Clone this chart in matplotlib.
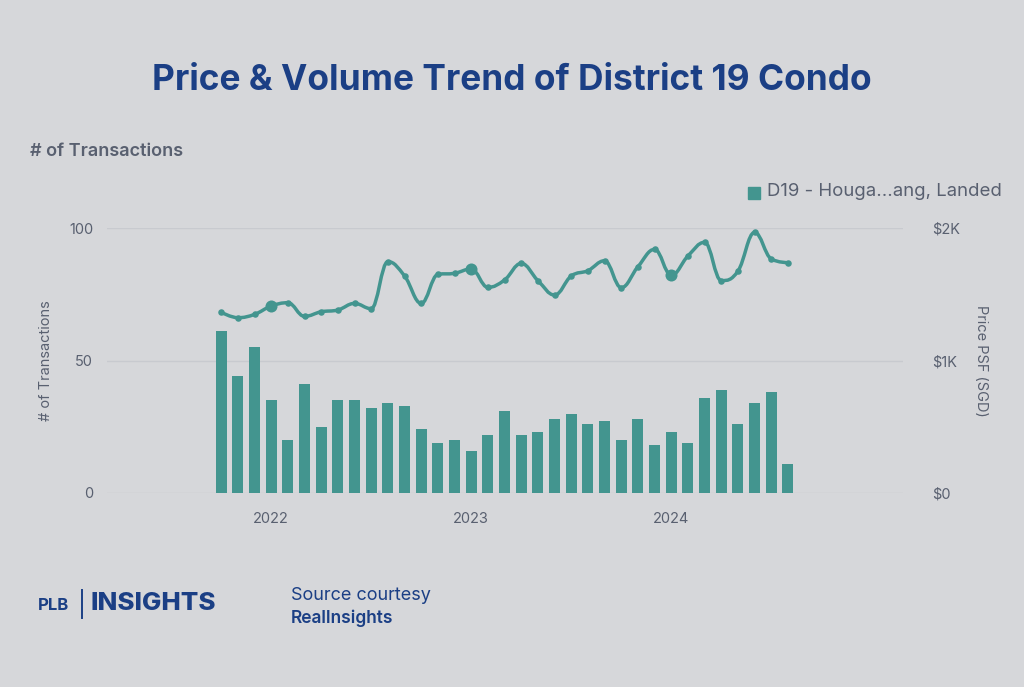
import matplotlib
matplotlib.use("Agg")
import matplotlib.pyplot as plt
from matplotlib.path import Path
from matplotlib.patches import PathPatch

# ---- data ----
months = ["2021-10", "2021-11", "2021-12", "2022-01", "2022-02", "2022-03", "2022-04",
          "2022-05", "2022-06", "2022-07", "2022-08", "2022-09", "2022-10", "2022-11",
          "2022-12", "2023-01", "2023-02", "2023-03", "2023-04", "2023-05", "2023-06",
          "2023-07", "2023-08", "2023-09", "2023-10", "2023-11", "2023-12", "2024-01",
          "2024-02", "2024-03", "2024-04", "2024-05", "2024-06", "2024-07", "2024-08"]
transactions = [61, 44, 55, 35, 20, 41, 25, 35, 35, 32, 34, 33, 24, 19, 20, 16, 22, 31,
                22, 23, 28, 30, 26, 27, 20, 28, 18, 23, 19, 36, 39, 26, 34, 38, 11]
price_psf = [1364, 1323, 1348, 1411, 1436, 1333, 1368, 1381, 1431, 1391, 1746, 1638,
             1431, 1650, 1658, 1691, 1552, 1608, 1733, 1603, 1494, 1638, 1678, 1753,
             1550, 1708, 1839, 1643, 1789, 1892, 1603, 1675, 1967, 1766, 1738]
year_ticks = ["2022", "2023", "2024"]
legend_label = "D19 - Houga...ang, Landed"

BG = "#d6d7da"
TEAL = "#43958f"
NAVY = "#1b3f85"
GRAY = "#596070"
GRID = "#c8cacf"

plt.rcParams["font.family"] = ["Inter", "DejaVu Sans"]

fig = plt.figure(figsize=(10.24, 6.87), dpi=100, facecolor=BG)
W, H = 1024, 687
ax = fig.add_axes([107 / W, 1 - 493 / H, (903 - 107) / W, (493 - 228) / H])
ax.set_facecolor(BG)
ax2 = ax.twinx()

x = list(range(len(months)))
ax.bar(x, transactions, width=0.66, color=TEAL, zorder=2)
ax.set_ylim(0, 100)
ax.set_yticks([0, 50, 100])
ax.set_xlim(-6.85, 40.9)
jan_idx = [i for i, m in enumerate(months) if m.endswith("-01")]
ax.set_xticks(jan_idx)
ax.set_xticklabels(year_ticks)
ax.grid(axis="y", color=GRID, lw=1, zorder=0)
for s in ax.spines.values():
    s.set_visible(False)
for s in ax2.spines.values():
    s.set_visible(False)
ax.tick_params(axis="both", length=0, colors=GRAY, labelsize=10.5)
ax.tick_params(axis="x", pad=13.5)
ax.tick_params(axis="y", pad=10)
ax.set_ylabel("# of Transactions", color=GRAY, fontsize=10.5, labelpad=11.5)

ax2.set_ylim(0, 2000)
ax2.set_yticks([0, 1000, 2000])
ax2.set_yticklabels(["$0", "$1K", "$2K"])
ax2.tick_params(axis="y", length=0, colors=GRAY, labelsize=10.5, pad=21)
ax2.set_ylabel("Price PSF (SGD)", color=GRAY, fontsize=10.5, rotation=270, labelpad=20)

# smooth spline (Highcharts-style bezier control points)
sm = 1.5
verts = [(x[0], price_psf[0])]
codes = [Path.MOVETO]
def ctrl(i):
    xi, yi = x[i], price_psf[i]
    if i == 0 or i == len(x) - 1:
        return (xi, yi), (xi, yi)
    xp, yp = x[i - 1], price_psf[i - 1]
    xn, yn = x[i + 1], price_psf[i + 1]
    lx, ly = (sm * xi + xp) / (sm + 1), (sm * yi + yp) / (sm + 1)
    rx, ry = (sm * xi + xn) / (sm + 1), (sm * yi + yn) / (sm + 1)
    corr = ((ry - ly) * (rx - xi)) / (rx - lx) + yi - ry
    ly += corr
    ry += corr
    if ly > yp and ly > yi:
        ly = max(yp, yi); ry = 2 * yi - ly
    elif ly < yp and ly < yi:
        ly = min(yp, yi); ry = 2 * yi - ly
    if ry > yn and ry > yi:
        ry = max(yn, yi); ly = 2 * yi - ry
    elif ry < yn and ry < yi:
        ry = min(yn, yi); ly = 2 * yi - ry
    return (lx, ly), (rx, ry)
ctrls = [ctrl(i) for i in range(len(x))]
for i in range(1, len(x)):
    verts += [ctrls[i - 1][1], ctrls[i][0], (x[i], price_psf[i])]
    codes += [Path.CURVE4] * 3
ax2.add_patch(PathPatch(Path(verts, codes), fc="none", ec=TEAL, lw=2.5, zorder=3,
                        capstyle="round", joinstyle="round"))
ax2.scatter(x, price_psf, s=22, color=TEAL, zorder=4, lw=0)
ax2.scatter([x[i] for i in jan_idx], [price_psf[i] for i in jan_idx], s=75,
            color=TEAL, zorder=5, lw=0)

# texts
fig.text(512 / W, 1 - 81 / H, "Price & Volume Trend of District 19 Condo",
         ha="center", va="center", fontsize=25.4, fontweight="bold", color=NAVY)
fig.text(30 / W, 1 - 152 / H, "# of Transactions", ha="left", va="center",
         fontsize=13, fontweight="semibold", color=GRAY)
fig.patches.append(plt.Rectangle((748 / W, 1 - 199 / H), 12 / W, 12 / H,
                                 transform=fig.transFigure, color=TEAL, figure=fig))
fig.text(767 / W, 1 - 192 / H, legend_label, ha="left", va="center",
         fontsize=13.4, color=GRAY)

fig.text(38 / W, 1 - 605 / H, "PLB", ha="left", va="center", fontsize=12,
         fontweight="bold", color=NAVY)
fig.add_artist(plt.Line2D([82 / W, 82 / W], [1 - 590 / H, 1 - 618 / H],
                          color=NAVY, lw=1.4, transform=fig.transFigure))
fig.text(91 / W, 1 - 604 / H, "INSIGHTS", ha="left", va="center", fontsize=18.6,
         fontweight="heavy", color=NAVY)
fig.text(291 / W, 1 - 596 / H, "Source courtesy", ha="left", va="center",
         fontsize=13, color=NAVY)
fig.text(291 / W, 1 - 618 / H, "RealInsights", ha="left", va="center",
         fontsize=12.5, fontweight="semibold", color=NAVY)

fig.savefig("out.png", dpi=100, facecolor=BG)
